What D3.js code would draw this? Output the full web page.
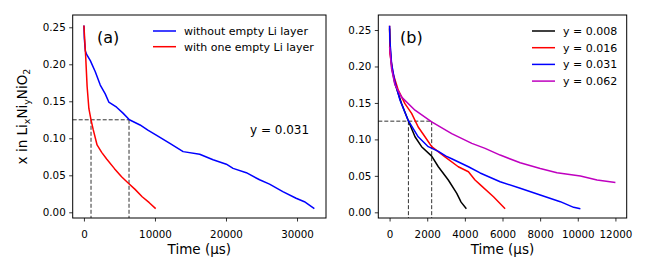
<!DOCTYPE html>
<html>
<head>
<meta charset="utf-8">
<script src="https://cdn.jsdelivr.net/npm/d3@7"></script>
<style>
 body { margin: 0; background: #fff; }
 svg text { font-family: "DejaVu Sans", sans-serif; }
</style>
</head>
<body>
<svg width="648" height="276"></svg>
<script>
// Values: [time in us, x]

var aWithout = [[0,0.2525],[60,0.235],[200,0.218],[400,0.213],[900,0.205],[1600,0.19],[2300,0.172],[3000,0.160],
 [3500,0.149],[4600,0.142],[5500,0.134],[6400,0.125],[7900,0.118],[9000,0.111],[10240,0.104],[12100,0.093],
 [13970,0.082],[16300,0.0785],[18180,0.071],[20050,0.065],[21000,0.0594],[22860,0.0535],[24730,0.044],
 [26130,0.038],[28000,0.028],[29870,0.019],[31040,0.0143],[32440,0.005]];
var aWith = [[0,0.2525],[100,0.235],[250,0.21],[450,0.17],[700,0.14],[1000,0.125],[1300,0.112],[1850,0.091],
 [2500,0.081],[3200,0.072],[4300,0.059],[5300,0.048],[6300,0.039],[7200,0.031],[8200,0.021],[9200,0.013],[10100,0.005]];

var b008 = [[0,0.252],[40,0.222],[120,0.197],[280,0.177],[640,0.149],[990,0.126],[1350,0.1036],[1700,0.090],
 [2237,0.077],[2590,0.0625],[3120,0.0443],[3570,0.026],[3800,0.014],[4080,0.005]];
var b016 = [[0,0.256],[16,0.218],[190,0.19],[460,0.1675],[815,0.149],[1170,0.1356],[1520,0.117],[1880,0.1036],
 [2237,0.090],[2945,0.076],[3650,0.0625],[4190,0.0556],[4540,0.0443],[4810,0.038],[5520,0.0214],[6140,0.005]];
var b031 = [[0,0.256],[16,0.236],[105,0.204],[280,0.179],[550,0.154],[990,0.126],[1520,0.1036],[2055,0.090],
 [2590,0.0835],[3000,0.077],[3300,0.0735],[4190,0.0625],[4810,0.054],[5875,0.042],[6940,0.0329],[8005,0.0237],
 [9070,0.0146],[9780,0.0068],[10140,0.005]];
var b062 = [[0,0.227],[105,0.197],[280,0.175],[640,0.158],[1350,0.140],[2237,0.124],[3300,0.108],[4370,0.0945],
 [5075,0.0877],[5875,0.0785],[6940,0.068],[8005,0.060],[8895,0.0543],[10140,0.0497],[11025,0.0443],[12000,0.041]];

var legendA = ['without empty Li layer', 'with one empty Li layer'];
var legendB = ['y = 0.008', 'y = 0.016', 'y = 0.031', 'y = 0.062'];
var ticksY = [0, 0.05, 0.10, 0.15, 0.20, 0.25];
var ticksXA = [0, 10000, 20000, 30000];
var ticksXB = [0, 2000, 4000, 6000, 8000, 10000, 12000];
var guideX = 0.125;
var guideA = [1000, 6350];
var guideB = [1000, 2237];

var svg = d3.select('svg');

function panel(opt) {
 var x = d3.scaleLinear().domain(opt.xDomain).range([opt.left, opt.right]);
 var y = d3.scaleLinear().domain(opt.yDomain).range([218, 15]);
 var g = svg.append('g');

 // axes
 var ax = g.append('g').attr('transform', 'translate(0,218)')
  .call(d3.axisBottom(x).tickValues(opt.xTicks).tickFormat(d3.format('d')).tickSizeOuter(0).tickSize(3.5).tickPadding(9));
 var ay = g.append('g').attr('transform', 'translate(' + opt.left + ',0)')
  .call(d3.axisLeft(y).tickValues(ticksY).tickFormat(d3.format('.2f')).tickSizeOuter(0).tickSize(3.5).tickPadding(3.5));
 [ax, ay].forEach(function(a) {
  a.select('.domain').remove();
  a.selectAll('text').attr('font-size', 10.3).attr('fill', '#000').attr('font-family', 'DejaVu Sans');
  a.selectAll('line').attr('stroke', '#000').attr('stroke-width', 0.8);
 });

 // dashed guides
 var dash = g.append('g').attr('fill', 'none').attr('stroke', '#333').attr('stroke-width', 1).attr('stroke-dasharray', '4,2');
 dash.append('line').attr('x1', x(opt.xDomain[0])).attr('x2', x(d3.max(opt.guide)))
  .attr('y1', y(guideX)).attr('y2', y(guideX));
 opt.guide.forEach(function(t) {
  dash.append('line').attr('x1', x(t)).attr('x2', x(t)).attr('y1', y(guideX)).attr('y2', y(opt.yDomain[0]));
 });

 var line = d3.line().x(function(d) { return x(d[0]); }).y(function(d) { return y(d[1]); });
 opt.series.forEach(function(s, i) {
  g.append('path').datum(s).attr('d', line).attr('fill', 'none')
   .attr('stroke', opt.colors[i]).attr('stroke-width', 1.5).attr('stroke-linejoin', 'round');
 });

 // frame
 g.append('rect').attr('x', opt.left).attr('y', 15).attr('width', opt.right - opt.left).attr('height', 203)
  .attr('fill', 'none').attr('stroke', '#000').attr('stroke-width', 1);

 g.append('text').attr('x', opt.tagX).attr('y', 43).attr('font-size', 16).text(opt.tag);

 // legend
 var lg = g.append('g').selectAll('g').data(opt.labels).enter().append('g')
  .attr('transform', function(d, i) { return 'translate(' + opt.legX + ',' + (31 + i * opt.legStep) + ')'; });
 lg.append('line').attr('x1', 0).attr('x2', 23).attr('stroke', function(d, i) { return opt.colors[i]; })
  .attr('stroke-width', 1.5);
 lg.append('text').attr('x', 31).attr('y', 4).attr('font-size', 11).text(function(d) { return d; });

 g.append('text').attr('x', (opt.left + opt.right) / 2).attr('y', 254).attr('text-anchor', 'middle')
  .attr('font-size', 13.5).text('Time (μs)');
 return g;
}

panel({left: 72.7, right: 326, xDomain: [-1580, 34080], yDomain: [-0.0077, 0.2666], xTicks: ticksXA,
 series: [aWithout, aWith], colors: ['#0000ff', '#ff0000'], labels: legendA, guide: guideA,
 tag: '(a)', tagX: 97, legX: 153, legStep: 15.7});

panel({left: 378.3, right: 626.7, xDomain: [-600, 12600], yDomain: [-0.0078, 0.2706], xTicks: ticksXB,
 series: [b008, b016, b031, b062], colors: ['#000000', '#ff0000', '#0000ff', '#bf00bf'], labels: legendB, guide: guideB,
 tag: '(b)', tagX: 400, legX: 532, legStep: 16.7});

svg.append('text').attr('x', 250).attr('y', 133.5).attr('font-size', 12).text('y = 0.031');

// y axis label with subscripts
var yl = svg.append('text').attr('transform', 'translate(27,116.5) rotate(-90)').attr('text-anchor', 'middle')
 .attr('font-size', 13.5);
yl.append('tspan').text('x in Li');
yl.append('tspan').attr('font-size', 9.5).attr('dy', 3).text('x');
yl.append('tspan').attr('dy', -3).text('Ni');
yl.append('tspan').attr('font-size', 9.5).attr('dy', 3).text('y');
yl.append('tspan').attr('dy', -3).text('NiO');
yl.append('tspan').attr('font-size', 9.5).attr('dy', 3).text('2');
</script>
</body>
</html>
